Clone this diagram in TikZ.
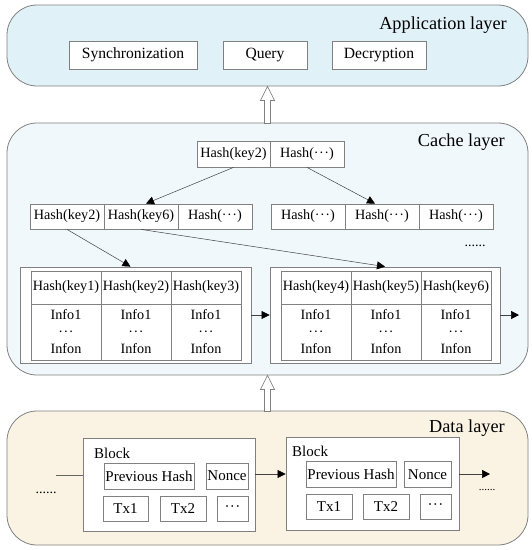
\documentclass[tikz,border=0pt]{standalone}
\usepackage{fontspec}
\setmainfont{Liberation Serif}
\usetikzlibrary{arrows.meta}
\definecolor{appfill}{HTML}{E1F1F8}
\definecolor{cachefill}{HTML}{F1F8FC}
\definecolor{datafill}{HTML}{FAF3E3}
\definecolor{edge}{HTML}{808080}
\newcommand{\mdots}{\textperiodcentered\kern0.5pt\textperiodcentered\kern0.5pt\textperiodcentered}
\begin{document}
\begin{tikzpicture}[x=1pt,y=-1pt,
  layer/.style={draw=edge, line width=0.8pt, rounded corners=30pt, inner sep=0},
  layerlabel/.style={anchor=east, inner sep=0, font=\fontsize{18.3}{20}\selectfont},
  box/.style={draw=edge, line width=0.8pt, fill=white, inner sep=0, font=\fontsize{15.6}{18}\selectfont},
  cell/.style={draw=edge, line width=0.8pt, fill=white, inner sep=0, font=\fontsize{14.2}{16}\selectfont},
  body/.style={cell, align=center, font=\fontsize{14.2}{17}\selectfont},
  frame/.style={draw=edge, line width=0.8pt, fill=white, inner sep=0},
  dbox/.style={draw=edge, line width=0.8pt, fill=white, inner sep=0, font=\fontsize{15}{17}\selectfont},
  conn/.style={draw=black!75, line width=0.5pt, -{Triangle[length=8pt,width=8pt,color=black]}},
  plain/.style={draw=black!60, line width=0.8pt},
  hollow/.style={draw=edge, line width=0.7pt, fill=white},
  dots/.style={inner sep=0, font=\fontsize{14}{16}\selectfont}
]
\useasboundingbox (0,0) rectangle (532,550);

% ---------------- Application layer ----------------
\node[layer, fill=appfill, minimum width=521pt, minimum height=81pt] (app) at (267.5,45.5) {};
\node[layerlabel] (applabel) at (507,25) {Application layer};
\node[box, minimum width=128pt, minimum height=28pt] (sync) at (133,55) {Synchronization};
\node[box, minimum width=84pt, minimum height=28pt] (query) at (265,55) {Query};
\node[box, minimum width=94pt, minimum height=28pt] (decr) at (379,55) {Decryption};

% ---------------- Cache layer ----------------
\node[layer, fill=cachefill, minimum width=521pt, minimum height=252pt] (cache) at (267.5,249) {};
\node[layerlabel] (cachelabel) at (505,142) {Cache layer};

\node[cell, minimum width=73pt, minimum height=26pt] (tp1) at (233.5,154) {Hash(key2)};
\node[cell, minimum width=74pt, minimum height=26pt] (tp2) at (307,154) {Hash(\mdots)};

\node[cell, minimum width=74pt, minimum height=25pt] (l1) at (67,216.5) {Hash(key2)};
\node[cell, minimum width=74pt, minimum height=25pt] (l2) at (141,216.5) {Hash(key6)};
\node[cell, minimum width=74pt, minimum height=25pt] (l3) at (215,216.5) {Hash(\mdots)};
\node[cell, minimum width=74pt, minimum height=25pt] (r1) at (308,216.5) {Hash(\mdots)};
\node[cell, minimum width=74pt, minimum height=25pt] (r2) at (382,216.5) {Hash(\mdots)};
\node[cell, minimum width=74pt, minimum height=25pt] (r3) at (456,216.5) {Hash(\mdots)};
\node[dots] (cdots) at (475,246) {......};

\node[frame, minimum width=231pt, minimum height=96pt] (tbl1) at (135.5,315) {};
\node[frame, minimum width=230pt, minimum height=96pt] (tbl2) at (385,315) {};

\node[cell, minimum width=70pt, minimum height=33pt] (h11) at (66,287.5) {Hash(key1)};
\node[cell, minimum width=70pt, minimum height=33pt] (h12) at (136,287.5) {Hash(key2)};
\node[cell, minimum width=70pt, minimum height=33pt] (h13) at (206,287.5) {Hash(key3)};
\node[body, minimum width=70pt, minimum height=56pt] (b11) at (66,332) {Info1\\\mdots\\Infon};
\node[body, minimum width=70pt, minimum height=56pt] (b12) at (136,332) {Info1\\\mdots\\Infon};
\node[body, minimum width=70pt, minimum height=56pt] (b13) at (206,332) {Info1\\\mdots\\Infon};

\node[cell, minimum width=70pt, minimum height=33pt] (h21) at (316,287.5) {Hash(key4)};
\node[cell, minimum width=70pt, minimum height=33pt] (h22) at (386,287.5) {Hash(key5)};
\node[cell, minimum width=70pt, minimum height=33pt] (h23) at (456,287.5) {Hash(key6)};
\node[body, minimum width=70pt, minimum height=56pt] (b21) at (316,332) {Info1\\\mdots\\Infon};
\node[body, minimum width=70pt, minimum height=56pt] (b22) at (386,332) {Info1\\\mdots\\Infon};
\node[body, minimum width=70pt, minimum height=56pt] (b23) at (456,332) {Info1\\\mdots\\Infon};

\coordinate (cend) at (519,315);

\draw[conn] (tp1.south) -- ([xshift=5pt]l2.north);
\draw[conn] (tp2.south) -- ([xshift=-7pt]r2.north);
\draw[conn] (l1.south) -- ([xshift=-5pt]tbl1.north);
\draw[conn] (l2.south) -- (tbl2.north);
\draw[conn] (tbl1.east) -- (tbl2.west);
\draw[conn] (tbl2.east) -- (cend);

% ---------------- Data layer ----------------
\node[layer, fill=datafill, minimum width=521pt, minimum height=134pt] (data) at (267.5,478) {};
\node[layerlabel] (datalabel) at (505,428) {Data layer};

\node[frame, minimum width=172pt, minimum height=93pt] (blk1) at (169,484.5) {};
\node[frame, minimum width=173pt, minimum height=93pt] (blk2) at (372.5,484) {};
\node[anchor=west, inner sep=0, font=\fontsize{15}{17}\selectfont] (bl1) at (94,453) {Block};
\node[anchor=west, inner sep=0, font=\fontsize{15}{17}\selectfont] (bl2) at (292,451) {Block};

\node[dbox, minimum width=90pt, minimum height=26pt] (ph1) at (149,476) {Previous Hash};
\node[dbox, minimum width=42pt, minimum height=26pt] (no1) at (227,476) {Nonce};
\node[dbox, minimum width=45pt, minimum height=25pt] (tx11) at (125.5,508.5) {Tx1};
\node[dbox, minimum width=46pt, minimum height=25pt] (tx12) at (183,508.5) {Tx2};
\node[dbox, minimum width=31pt, minimum height=25pt] (tx13) at (232.5,508.5) {\mdots};

\node[dbox, minimum width=90pt, minimum height=26pt] (ph2) at (351,474.5) {Previous Hash};
\node[dbox, minimum width=47pt, minimum height=26pt] (no2) at (427.5,474.5) {Nonce};
\node[dbox, minimum width=46pt, minimum height=25pt] (tx21) at (329,507) {Tx1};
\node[dbox, minimum width=46pt, minimum height=25pt] (tx22) at (386,507) {Tx2};
\node[dbox, minimum width=31pt, minimum height=25pt] (tx23) at (435.5,507) {\mdots};

\coordinate (dstart) at (56,475);
\coordinate (dend) at (490,474);
\node[dots] (ldots) at (46,493) {......};
\node[dots, font=\fontsize{11}{13}\selectfont] (rdots) at (487,490) {......};

\draw[plain] (dstart) -- (dstart -| blk1.west);
\draw[conn] (blk1.east |- dend) -- (blk2.west |- dend);
\draw[conn] (blk2.east |- dend) -- (dend);

% ---------------- Hollow arrows between layers ----------------
\draw[hollow] (app.south) -- ++(7,14) -- ++(-4,0) -- ++(0,23) -- ++(-6,0) -- ++(0,-23) -- ++(-4,0) -- cycle;
\draw[hollow] (cache.south) -- ++(7,14) -- ++(-4,0) -- ++(0,22) -- ++(-6,0) -- ++(0,-22) -- ++(-4,0) -- cycle;
\end{tikzpicture}
\end{document}
